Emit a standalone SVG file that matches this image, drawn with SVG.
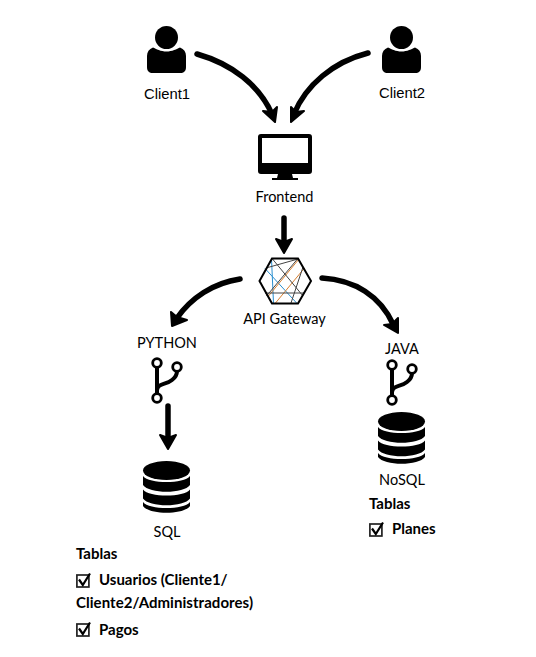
<svg xmlns="http://www.w3.org/2000/svg" width="536" height="657" viewBox="0 0 536 657">
<style>
text{font-family:"Lato","Noto Sans",sans-serif;fill:#000;font-size:14.500px}
.m{text-anchor:middle}
.a{font-family:"Liberation Sans",Arial,sans-serif;font-size:14.800px}
.b{font-weight:700;font-size:15px}
.c{fill:none;stroke:#000;stroke-width:5.500;stroke-linecap:round}
.h{fill:#000;stroke:#000;stroke-width:2;stroke-linejoin:round}
.g{fill:none;stroke:#000;stroke-width:4;stroke-linecap:round}
.box{fill:none;stroke:#222;stroke-width:1.700}
.tick{fill:none;stroke:#000;stroke-width:2.200}
</style>
<defs>
<g id="person"><circle cx="19.500" cy="11.500" r="11.500"/><path d="M6 21.500C9 23 14 25.500 19.500 25.500S30 23 33 21.500C37 23 39 26 39 30V41C39 45 37 47 33 47H6C2 47 0 45 0 41V30C0 26 2 23 6 21.500Z"/></g>
<g id="db"><ellipse cx="23.500" cy="9.500" rx="23.500" ry="9.500"/><path d="M0 15C6 23 41 23 47 15V24C41 33 6 33 0 24Z"/><path d="M0 29C6 37 41 37 47 29V38C41 47 6 47 0 38Z" transform="translate(0,-0.500)"/><path d="M0 42C6 50 41 50 47 42V46C41 55 6 55 0 46Z" transform="translate(0,-1)"/></g>
<g id="branch"><path class="g" d="M0 4V31"/><path class="g" d="M0 27C1 20 9 22 15 17C19 14 20 12 20 8"/><circle cx="0" cy="0" r="4.300" fill="#fff" stroke="#000" stroke-width="2.800"/><circle cx="20" cy="4" r="4.300" fill="#fff" stroke="#000" stroke-width="2.800"/><circle cx="0" cy="35" r="4.300" fill="#fff" stroke="#000" stroke-width="2.800"/></g>
<g id="check"><rect class="box" x="0.900" y="2" width="12" height="12"/><path class="tick" d="M3 6.500L6.800 12L14 0.500"/></g>
</defs>

<g id="connectors">
<path class="c" d="M197 54C232 64 259 85 272 114"/><path class="h" d="M275 122L263 111L272 112L277 107Z"/>
<path class="c" d="M368 53C333 62 306 85 294 114"/><path class="h" d="M291 122L291 107L296 112L304 111Z"/>
<path class="c" d="M284 218V244"/><path class="h" d="M284 253L276 239L284 242L292 239Z"/>
<path class="c" d="M240 279C213 283 191 298 177 318"/><path class="h" d="M172 326L171 312L177 317L187 320Z"/>
<path class="c" d="M322 278C355 280 380 296 393 324"/><path class="h" d="M398 333L384 325L392 324L398 318Z"/>
<path class="c" d="M168 406V440"/><path class="h" d="M168 449L160 435L168 438L176 435Z"/>
</g>

<g id="client1"><use href="#person" x="147" y="26"/><text class="a m" x="167" y="99">Client1</text></g>
<g id="client2"><use href="#person" x="382" y="26"/><text class="a m" x="402" y="98">Client2</text></g>

<g id="frontend">
<path fill-rule="evenodd" d="M261 134H309Q312 134 312 137V171Q312 174 309 174H292L293 178H298V180H272V178H277L278 174H261Q258 174 258 171V137Q258 134 261 134ZM262 138V163H308V138Z"/>
<text class="m" x="284.500" y="202">Frontend</text>
</g>

<g id="api-gateway">
<g fill="none" stroke-width="1">
<path stroke="#2a8fd0" d="M271.500 259L273.500 303M265 268.500L297.500 304"/>
<path stroke="#d98030" d="M299 259L268.500 296M304.500 268L275.500 303"/>
<path stroke="#444" d="M266 268L298 259M272.500 259L303 296M303 267L291 303M265 293H304M297.500 259L266.500 296"/>
</g>
<path fill="none" stroke="#000" stroke-width="2" d="M272 258.500H298L311 281L298 303.500H272L259.500 281Z"/>
<text class="m" x="284.500" y="324">API Gateway</text>
</g>

<g id="python"><text class="m" x="167" y="348">PYTHON</text><use href="#branch" x="157" y="363"/></g>
<g id="java"><text class="m" x="402" y="354">JAVA</text><use href="#branch" x="392" y="365"/></g>

<g id="sql"><use href="#db" x="143" y="461"/><text class="m" x="167" y="537">SQL</text></g>
<g id="nosql"><use href="#db" x="378" y="412"/><text class="m" x="402" y="485">NoSQL</text></g>

<g id="tablas-sql">
<text class="b" x="76" y="559">Tablas</text>
<use href="#check" x="76" y="573"/><text class="b" x="99" y="585">Usuarios (Cliente1/</text>
<text class="b" x="76" y="608" textLength="177">Cliente2/Administradores)</text>
<use href="#check" x="76" y="622"/><text class="b" x="99" y="635">Pagos</text>
</g>
<g id="tablas-nosql">
<text class="b" x="369" y="509">Tablas</text>
<use href="#check" x="369" y="522"/><text class="b" x="392" y="534">Planes</text>
</g>
</svg>
